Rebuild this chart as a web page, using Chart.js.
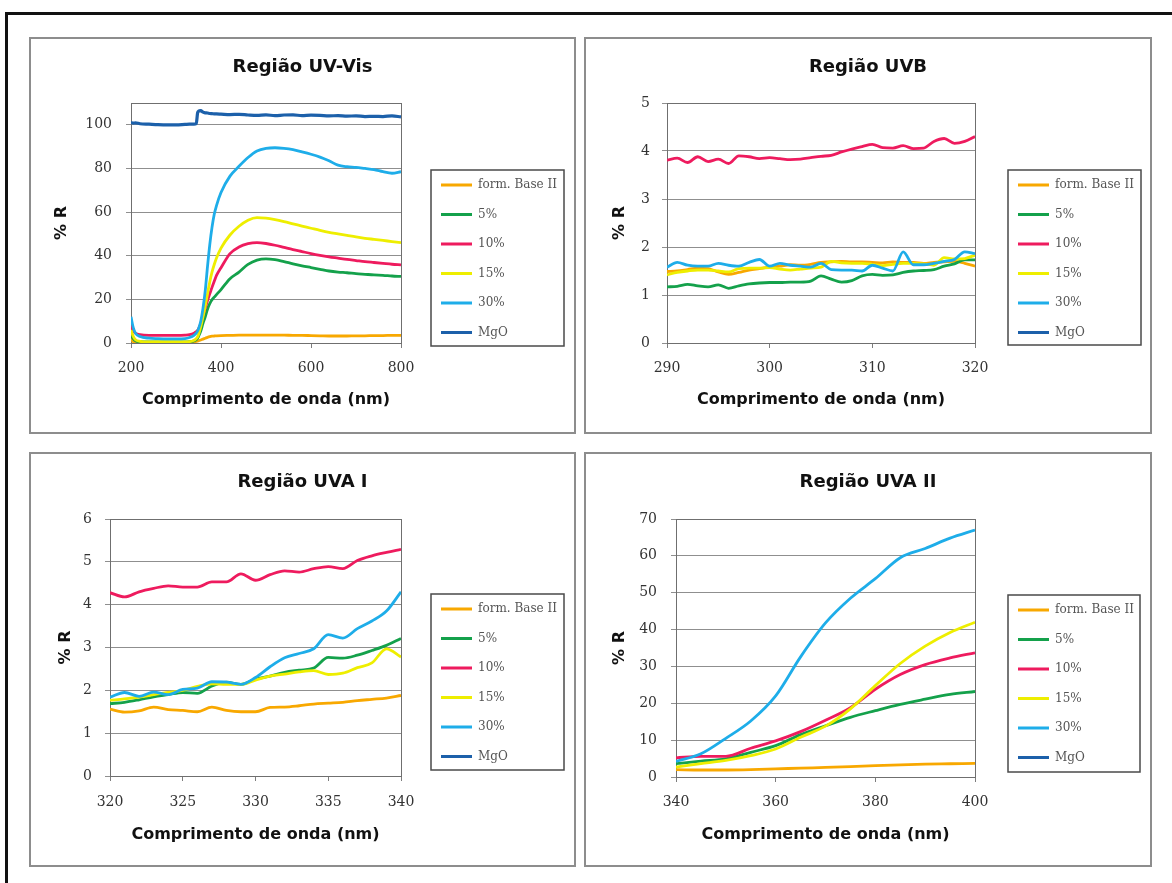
<!DOCTYPE html>
<html lang="pt">
<head>
<meta charset="utf-8">
<title>Reflectância difusa</title>
<script src="https://cdn.jsdelivr.net/npm/chart.js@4.4.1/dist/chart.umd.min.js"></script>
<style>
html,body{margin:0;padding:0;background:#fff;}
body{width:1172px;height:883px;overflow:hidden;position:relative;}
#frame{position:absolute;left:5px;top:12px;width:1300px;height:1000px;border-top:3px solid #111;border-left:3px solid #111;}
.panel{position:absolute;border:2px solid #8d8d8d;box-sizing:border-box;background:#fff;}
.panel canvas{position:absolute;left:0;top:0;}
</style>
</head>
<body>
<div id="frame"></div>
<div class="panel" style="left:29px;top:37px;width:547px;height:397px"><canvas id="c1" width="543" height="393"></canvas></div>
<div class="panel" style="left:584px;top:37px;width:568px;height:397px"><canvas id="c2" width="564" height="393"></canvas></div>
<div class="panel" style="left:29px;top:452px;width:547px;height:415px"><canvas id="c3" width="543" height="411"></canvas></div>
<div class="panel" style="left:584px;top:452px;width:568px;height:415px"><canvas id="c4" width="564" height="411"></canvas></div>
<script>
// ---------- DATA ----------
const SERIES_LABELS = ['form. Base II', '5%', '10%', '15%', '30%', 'MgO'];

// Região UV-Vis
const P1_WL = [200,205,210,220,240,260,280,300,320,330,340,345,348,350,355,360,365,370,375,380,385,390,400,420,440,460,480,500,520,540,560,580,600,620,640,660,680,700,720,740,760,780,800];
const P1_BASE = [2,0.6,0.3,0.2,0.2,0.2,0.2,0.2,0.3,0.3,0.5,0.7,0.9,1.0,1.4,1.8,2.2,2.6,2.9,3.1,3.2,3.3,3.4,3.5,3.6,3.6,3.6,3.6,3.6,3.6,3.5,3.5,3.4,3.3,3.2,3.2,3.2,3.3,3.3,3.4,3.4,3.5,3.5];
const P1_5 = [4,2,1,0.6,0.5,0.5,0.5,0.5,0.5,0.6,1,1.5,2.2,3,5.5,9,12,15.5,18,19.8,21,22.2,24.5,29.5,32.5,36,38,38.6,38.2,37.3,36.3,35.4,34.6,33.8,33,32.5,32.2,31.8,31.5,31.2,31,30.7,30.5];
const P1_10 = [8,5.5,4.5,3.8,3.5,3.5,3.5,3.5,3.6,3.8,4.5,5.2,5.8,6.5,9,12.5,16,19.5,22.5,25.5,28.3,31,34.5,41,44,45.5,46,45.6,44.8,43.8,42.8,41.9,41,40.2,39.5,38.9,38.3,37.8,37.3,36.9,36.5,36.1,35.8];
const P1_15 = [6,3,1.5,0.8,0.5,0.5,0.5,0.5,0.5,0.6,1.2,2,2.8,3.8,7.5,12,17,22.5,28,32.5,36,39,43.5,49.5,53.5,56.3,57.5,57.2,56.5,55.6,54.6,53.6,52.6,51.6,50.7,50,49.3,48.6,48,47.5,47,46.5,46];
const P1_30 = [12,7,4.5,3,2.2,2,1.9,1.9,2,2.5,3.5,4.5,5.5,6.5,10,16,24,35,45,53,59,63,69,76.5,81,85,88,89.2,89.5,89.2,88.6,87.6,86.5,85.2,83.5,81.5,80.8,80.5,80,79.5,78.5,77.8,78.5];
const P1_MGO = [101,100.8,100.9,100.5,100.3,100.1,100,100,100.2,100.3,100.3,100.5,105.5,106.2,106.5,105.8,105.5,105.4,105.2,105.1,105,105,104.9,104.7,104.8,104.5,104.3,104.6,104.2,104.5,104.6,104.2,104.4,104.3,104.1,104.2,104,104.1,103.8,103.9,103.8,104.1,103.6];
const P1_XTICKS = [200, 400, 600, 800];
const P1_YTICKS = [0, 20, 40, 60, 80, 100];

// Região UVB
const P2_WL = [290,291,292,293,294,295,296,297,298,299,300,301,302,303,304,305,306,307,308,309,310,311,312,313,314,315,316,317,318,319,320];
const P2_BASE = [1.49,1.50,1.53,1.56,1.55,1.48,1.43,1.47,1.52,1.55,1.58,1.60,1.63,1.62,1.64,1.68,1.69,1.70,1.69,1.69,1.68,1.67,1.69,1.68,1.68,1.66,1.68,1.69,1.70,1.66,1.60];
const P2_5 = [1.17,1.18,1.22,1.19,1.17,1.21,1.14,1.19,1.23,1.25,1.26,1.26,1.27,1.27,1.29,1.40,1.33,1.27,1.30,1.40,1.43,1.41,1.42,1.47,1.50,1.51,1.53,1.60,1.65,1.73,1.73];
const P2_10 = [3.81,3.85,3.76,3.88,3.78,3.83,3.74,3.90,3.88,3.84,3.86,3.84,3.82,3.83,3.86,3.89,3.91,3.98,4.04,4.09,4.14,4.07,4.06,4.11,4.05,4.06,4.20,4.26,4.16,4.20,4.30];
const P2_15 = [1.42,1.47,1.50,1.52,1.52,1.50,1.48,1.55,1.56,1.56,1.57,1.54,1.52,1.54,1.56,1.58,1.70,1.67,1.66,1.66,1.64,1.61,1.64,1.66,1.66,1.65,1.62,1.78,1.75,1.76,1.83];
const P2_30 = [1.58,1.68,1.62,1.60,1.60,1.66,1.62,1.60,1.68,1.74,1.60,1.66,1.62,1.60,1.58,1.66,1.53,1.52,1.52,1.50,1.62,1.56,1.50,1.90,1.63,1.63,1.66,1.70,1.74,1.90,1.86];
const P2_XTICKS = [290, 300, 310, 320];
const P2_YTICKS = [0, 1, 2, 3, 4, 5];

// Região UVA I
const P3_WL = [320,321,322,323,324,325,326,327,328,329,330,331,332,333,334,335,336,337,338,339,340];
const P3_BASE = [1.56,1.49,1.52,1.61,1.55,1.53,1.50,1.61,1.53,1.50,1.50,1.60,1.61,1.64,1.68,1.70,1.72,1.76,1.79,1.82,1.88];
const P3_5 = [1.69,1.72,1.78,1.85,1.90,1.95,1.93,2.10,2.19,2.14,2.26,2.33,2.42,2.47,2.52,2.77,2.75,2.82,2.93,3.05,3.21];
const P3_10 = [4.28,4.18,4.30,4.38,4.44,4.41,4.41,4.53,4.53,4.72,4.57,4.70,4.79,4.76,4.84,4.89,4.84,5.03,5.14,5.22,5.29];
const P3_15 = [1.77,1.80,1.84,1.90,1.95,2.00,2.09,2.15,2.14,2.14,2.24,2.33,2.38,2.43,2.46,2.37,2.40,2.53,2.64,2.97,2.78];
const P3_30 = [1.84,1.95,1.86,1.96,1.90,2.02,2.05,2.20,2.19,2.14,2.30,2.55,2.76,2.86,2.97,3.30,3.22,3.44,3.62,3.85,4.30];
const P3_XTICKS = [320, 325, 330, 335, 340];
const P3_YTICKS = [0, 1, 2, 3, 4, 5, 6];

// Região UVA II
const P4_WL = [340,345,350,355,360,365,370,375,380,385,390,395,400];
const P4_BASE = [2.0,1.9,1.9,2.0,2.2,2.4,2.6,2.8,3.1,3.3,3.5,3.6,3.7];
const P4_5 = [3.6,4.3,4.9,6.7,8.5,11.5,13.9,16.2,18.0,19.7,21.1,22.4,23.2];
const P4_10 = [5.2,5.6,5.6,7.8,9.8,12.3,15.4,18.8,23.8,27.8,30.5,32.3,33.7];
const P4_15 = [2.7,3.6,4.5,5.8,7.6,10.8,13.8,18.5,24.8,30.8,35.5,39.2,42.0];
const P4_30 = [4.2,6.3,10.5,15.2,22.0,32.6,41.8,48.5,53.8,59.5,62.0,64.8,67.0];
const P4_XTICKS = [340, 360, 380, 400];
const P4_YTICKS = [0, 10, 20, 30, 40, 50, 60, 70];

// ---------- STYLE ----------
const STYLE = {
  colors: ['#f8a800', '#14a14b', '#ee1b5e', '#eeee00', '#1eade9', '#1c60aa'],
  widths: [2.8, 2.8, 2.8, 2.8, 2.8, 3.2],
  grid: '#8f8f8f',
  axis: '#7d7d7d',
  border: '#6f6f6f',
  titleFont: {family: "'DejaVu Sans', sans-serif", size: 18, weight: 'bold'},
  axisTitleFont: {family: "'DejaVu Sans', sans-serif", size: 16, weight: 'bold'},
  tickFont: {family: "'DejaVu Serif', serif", size: 14},
  legendFont: {family: "'DejaVu Serif', serif", size: 12}
};

Chart.defaults.font.family = "'DejaVu Serif', serif";
Chart.defaults.color = '#333';

function framePlugin(L) {
  return {
    id: 'frameBox',
    beforeLayout(chart) {
      const lg = chart.legend;
      if (lg && !lg.__fixedWidth) {
        const origFit = lg.fit.bind(lg);
        lg.fit = function () { origFit(); this.width = L.legW; };
        lg.__fixedWidth = true;
      }
    },
    afterLayout(chart) {
      const lg = chart.legend;
      if (!lg) return;
      const pad = L.legPad, fs = STYLE.legendFont.size;
      lg.left = L.legBox[0] + L.legInset - pad;
      lg.right = lg.left + 220;
      lg.top = L.legBox[1] + L.legFirst - pad - fs / 2;
      lg.bottom = lg.top + 300;
    },
    beforeDatasetsDraw(chart) {
      const {ctx, chartArea: a} = chart;
      ctx.save();
      ctx.strokeStyle = STYLE.border;
      ctx.lineWidth = 1;
      ctx.strokeRect(Math.round(a.left) + 0.5, Math.round(a.top) + 0.5,
                     Math.round(a.right - a.left), Math.round(a.bottom - a.top));
      ctx.restore();
    },
    afterDraw(chart) {
      const ctx = chart.ctx;
      ctx.save();
      ctx.strokeStyle = '#4a4a4a';
      ctx.lineWidth = 1.5;
      ctx.strokeRect(L.legBox[0], L.legBox[1], L.legBox[2], L.legBox[3]);
      ctx.restore();
    }
  };
}

function makePanel(id, title, wl, series, xr, xt, yr, yt, L) {
  const datasets = SERIES_LABELS.map((lab, i) => ({
    label: lab,
    data: series[i] ? wl.map((w, k) => ({x: w, y: series[i][k]})) : [],
    borderColor: STYLE.colors[i],
    backgroundColor: STYLE.colors[i],
    borderWidth: STYLE.widths[i],
    pointRadius: 0,
    pointHoverRadius: 0,
    cubicInterpolationMode: 'monotone',
    fill: false,
    order: SERIES_LABELS.length - i
  }));
  return new Chart(document.getElementById(id), {
    type: 'line',
    data: {datasets},
    options: {
      responsive: false,
      animation: false,
      devicePixelRatio: 1,
      events: [],
      layout: {padding: 0},
      plugins: {
        title: {
          display: true, text: title, color: '#111',
          font: STYLE.titleFont, padding: {top: L.titleT, bottom: L.titleB}
        },
        legend: {
          display: true, position: 'right', align: 'start',
          labels: {
            usePointStyle: true, pointStyle: 'line', pointStyleWidth: 31,
            padding: L.legPad, color: '#555', font: STYLE.legendFont,
            sort: (a, b) => a.datasetIndex - b.datasetIndex
          }
        },
        tooltip: {enabled: false}
      },
      scales: {
        x: {
          type: 'linear', min: xr[0], max: xr[1],
          afterBuildTicks: s => { s.ticks = xt.map(v => ({value: v})); },
          afterFit: s => { s.height = L.xH; },
          grid: {display: true, drawOnChartArea: false, drawTicks: true, tickLength: 5, color: STYLE.axis},
          border: {display: true, color: STYLE.axis},
          ticks: {font: STYLE.tickFont, color: '#333', padding: L.xPad, maxRotation: 0},
          title: {display: true, text: 'Comprimento de onda (nm)', color: '#111',
                  font: STYLE.axisTitleFont, padding: {top: 0, bottom: L.xTitleB}}
        },
        y: {
          type: 'linear', min: yr[0], max: yr[1],
          afterBuildTicks: s => { s.ticks = yt.map(v => ({value: v})); },
          afterFit: s => { s.width = L.yW; },
          grid: {display: true, drawTicks: true, tickLength: 5, color: STYLE.grid},
          border: {display: true, color: STYLE.axis},
          ticks: {font: STYLE.tickFont, color: '#333', padding: L.yPad},
          title: {display: true, text: '% R', color: '#111',
                  font: STYLE.axisTitleFont, padding: {top: L.yTitleT, bottom: 0}}
        }
      }
    },
    plugins: [framePlugin(L)]
  });
}

makePanel('c1', 'Região UV-Vis', P1_WL, [P1_BASE, P1_5, P1_10, P1_15, P1_30, P1_MGO],
  [200, 800], P1_XTICKS, [0, 110], P1_YTICKS,
  {legW: 173, titleT: 17.2, titleB: 25.2, xH: 89, xPad: 11.6, xTitleB: 22.4, yW: 100, yPad: 14, yTitleT: 21.4,
   legPad: 17.5, legBox: [400, 131, 133, 176], legInset: 10, legFirst: 15});

makePanel('c2', 'Região UVB', P2_WL, [P2_BASE, P2_5, P2_10, P2_15, P2_30, null],
  [290, 320], P2_XTICKS, [0, 5], P2_YTICKS,
  {legW: 175, titleT: 17.2, titleB: 25.2, xH: 89, xPad: 11.6, xTitleB: 22.4, yW: 81, yPad: 12, yTitleT: 24.4,
   legPad: 17.5, legBox: [422, 131, 133, 175], legInset: 10, legFirst: 15});

makePanel('c3', 'Região UVA I', P3_WL, [P3_BASE, P3_5, P3_10, P3_15, P3_30, null],
  [320, 340], P3_XTICKS, [0, 6], P3_YTICKS,
  {legW: 173, titleT: 17.2, titleB: 26.2, xH: 89, xPad: 12.6, xTitleB: 20.4, yW: 79, yPad: 13, yTitleT: 25.4,
   legPad: 17.5, legBox: [400, 140, 133, 176], legInset: 10, legFirst: 15});

makePanel('c4', 'Região UVA II', P4_WL, [P4_BASE, P4_5, P4_10, P4_15, P4_30, null],
  [340, 400], P4_XTICKS, [0, 70], P4_YTICKS,
  {legW: 175, titleT: 17.2, titleB: 26.2, xH: 88, xPad: 11.6, xTitleB: 20.4, yW: 90, yPad: 14, yTitleT: 24.4,
   legPad: 17.5, legBox: [422, 141, 132, 177], legInset: 10, legFirst: 15});
</script>
</body>
</html>
